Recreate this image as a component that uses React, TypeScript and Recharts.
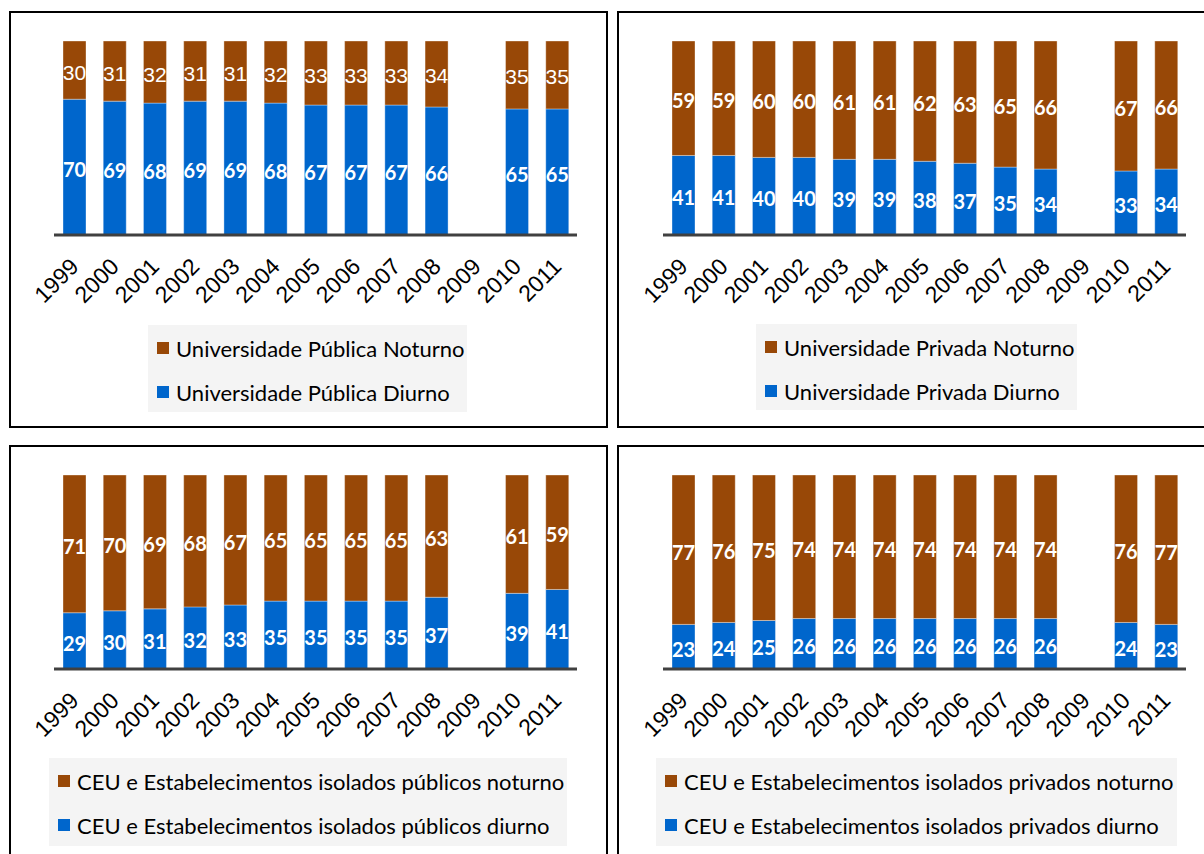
import React from 'react';
import { BarChart, Bar, XAxis, YAxis, LabelList } from 'recharts';

const years = ['1999', '2000', '2001', '2002', '2003', '2004', '2005', '2006', '2007', '2008', '2009', '2010', '2011'];

const pubUniDiurno = [70, 69, 68, 69, 69, 68, 67, 67, 67, 66, null, 65, 65];
const pubUniNoturno = [30, 31, 32, 31, 31, 32, 33, 33, 33, 34, null, 35, 35];

const privUniDiurno = [41, 41, 40, 40, 39, 39, 38, 37, 35, 34, null, 33, 34];
const privUniNoturno = [59, 59, 60, 60, 61, 61, 62, 63, 65, 66, null, 67, 66];

const pubCeuDiurno = [29, 30, 31, 32, 33, 35, 35, 35, 35, 37, null, 39, 41];
const pubCeuNoturno = [71, 70, 69, 68, 67, 65, 65, 65, 65, 63, null, 61, 59];

const privCeuDiurno = [23, 24, 25, 26, 26, 26, 26, 26, 26, 26, null, 24, 23];
const privCeuNoturno = [77, 76, 75, 74, 74, 74, 74, 74, 74, 74, null, 76, 77];

const BLUE = '#0066CC';
const BROWN = '#984807';

const buildRows = (diurno: (number | null)[], noturno: (number | null)[]) =>
  years.map((y, i) => ({ year: y, diurno: diurno[i], noturno: noturno[i] }));

const YearTick = (props: any) => {
  const { x, y, payload } = props;
  const px = x + 6;
  const py = y + 33;
  return (
    <text
      x={px}
      y={py}
      transform={`rotate(-45, ${px}, ${py})`}
      textAnchor="end"
      fontFamily="'Liberation Sans', Arial, sans-serif"
      fontSize={23}
      fill="#000"
    >
      {payload.value}
    </text>
  );
};

const makeLabel = (family: string, weight: string, size: number) => (props: any) => {
  const { x, y, width, height, value } = props;
  if (value === null || value === undefined) return null;
  return (
    <text
      x={x + width / 2}
      y={y + height / 2 + 2}
      textAnchor="middle"
      dominantBaseline="central"
      fontFamily={family}
      fontWeight={weight}
      fontSize={size}
      fill="#fff"
    >
      {value}
    </text>
  );
};

const boldLabel = makeLabel("Lato, 'Noto Sans', sans-serif", 'bold', 20);
const arialLabel = makeLabel("'Liberation Sans', Arial, sans-serif", 'normal', 21);

type PanelProps = {
  diurno: (number | null)[];
  noturno: (number | null)[];
  left: number;
  top: number;
  noturnoLabel: (p: any) => any;
};

const ChartPanel = ({ diurno, noturno, left, top, noturnoLabel }: PanelProps) => {
  const data = buildRows(diurno, noturno);
  return (
    <div style={{ position: 'absolute', left, top }}>
      <BarChart
        width={598}
        height={416}
        data={data}
        margin={{ top: 30, right: 29, left: 46, bottom: 112 }}
        barSize={23}
      >
        <YAxis hide domain={[0, 100]} />
        <XAxis
          dataKey="year"
          height={80}
          tickLine={false}
          tickSize={0}
          tickMargin={0}
          interval={0}
          axisLine={{ stroke: '#404040', strokeWidth: 3 }}
          tick={<YearTick />}
        />
        <Bar dataKey="diurno" stackId="a" fill={BLUE} stroke="#ffffff" strokeOpacity={0.35} strokeWidth={1} isAnimationActive={false}>
          <LabelList dataKey="diurno" content={boldLabel} />
        </Bar>
        <Bar dataKey="noturno" stackId="a" fill={BROWN} stroke="#ffffff" strokeOpacity={0.35} strokeWidth={1} isAnimationActive={false}>
          <LabelList dataKey="noturno" content={noturnoLabel} />
        </Bar>
      </BarChart>
    </div>
  );
};

type LegendProps = {
  left: number;
  top: number;
  width: number;
  height: number;
  noturnoText: string;
  diurnoText: string;
};

const LegendBox = ({ left, top, width, height, noturnoText, diurnoText }: LegendProps) => {
  const row = (color: string, text: string, y: number) => (
    <div style={{ position: 'absolute', left: 9, top: y, display: 'flex', alignItems: 'center', height: 26 }}>
      <div style={{ width: 12, height: 12, background: color, marginRight: 7 }} />
      <span style={{ fontFamily: "Lato, 'Noto Sans', sans-serif", fontSize: 22, color: '#000', whiteSpace: 'nowrap' }}>{text}</span>
    </div>
  );
  return (
    <div style={{ position: 'absolute', left, top, width, height, background: '#f4f4f4' }}>
      {row(BROWN, noturnoText, 10)}
      {row(BLUE, diurnoText, 54)}
    </div>
  );
};

const Frame = ({ left, top, width, height }: { left: number; top: number; width: number; height: number }) => (
  <div
    style={{
      position: 'absolute',
      left,
      top,
      width,
      height,
      border: '2px solid #000',
      boxSizing: 'border-box',
    }}
  />
);

export default function App() {
  return (
    <div style={{ position: 'absolute', left: 0, top: 0, width: 1204, height: 854, background: '#fff', overflow: 'hidden' }}>
      <Frame left={9} top={11} width={599} height={417} />
      <Frame left={617} top={11} width={600} height={417} />
      <Frame left={9} top={445} width={599} height={420} />
      <Frame left={617} top={445} width={600} height={420} />

      <ChartPanel diurno={pubUniDiurno} noturno={pubUniNoturno} left={8} top={11} noturnoLabel={arialLabel} />
      <ChartPanel diurno={privUniDiurno} noturno={privUniNoturno} left={617} top={11} noturnoLabel={boldLabel} />
      <ChartPanel diurno={pubCeuDiurno} noturno={pubCeuNoturno} left={8} top={445} noturnoLabel={boldLabel} />
      <ChartPanel diurno={privCeuDiurno} noturno={privCeuNoturno} left={617} top={445} noturnoLabel={boldLabel} />

      <LegendBox left={148} top={325} width={319} height={87} noturnoText="Universidade Pública Noturno" diurnoText="Universidade Pública Diurno" />
      <LegendBox left={756} top={324} width={321} height={86} noturnoText="Universidade Privada Noturno" diurnoText="Universidade Privada Diurno" />
      <LegendBox left={49} top={758} width={518} height={88} noturnoText="CEU e Estabelecimentos isolados públicos noturno" diurnoText="CEU e Estabelecimentos isolados públicos diurno" />
      <LegendBox left={656} top={758} width={521} height={88} noturnoText="CEU e Estabelecimentos isolados privados noturno" diurnoText="CEU e Estabelecimentos isolados privados diurno" />
    </div>
  );
}
